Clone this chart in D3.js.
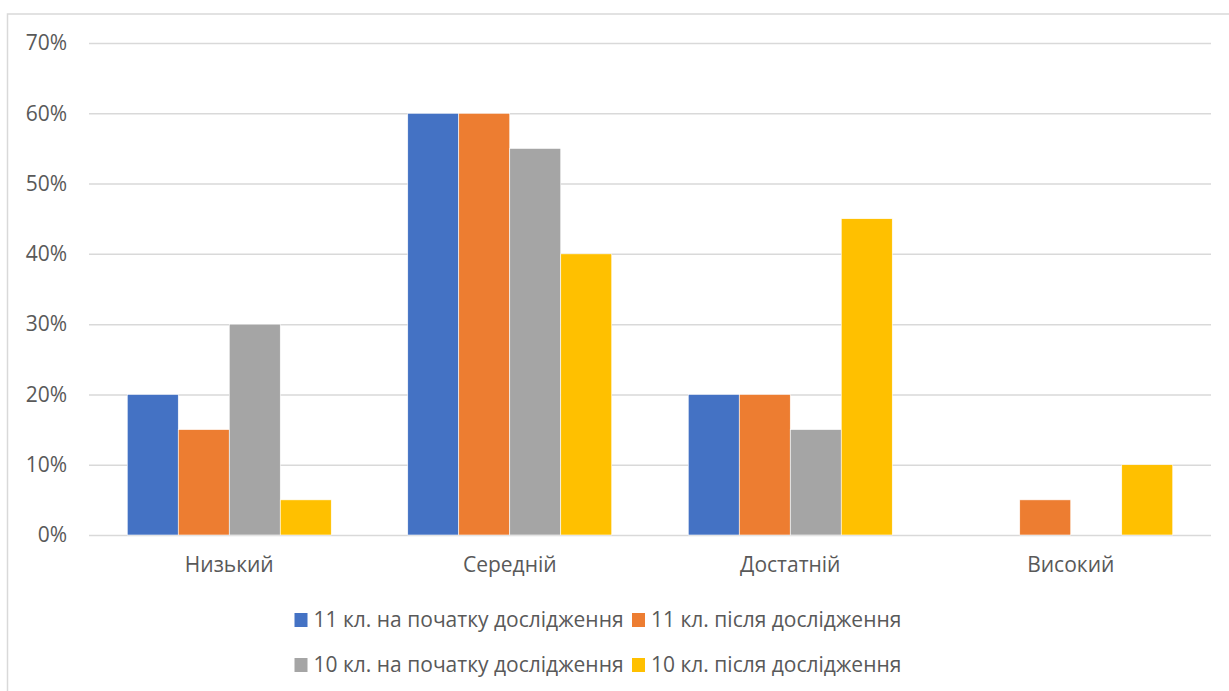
<!DOCTYPE html>
<html>
<head>
<meta charset="utf-8">
<script src="https://cdn.jsdelivr.net/npm/d3@7"></script>
<style>
  html, body { margin: 0; padding: 0; background: #fff; }
  svg { display: block; }
  svg text { font-family: "Open Sans", "Noto Sans", sans-serif; }
</style>
</head>
<body>
<svg id="chart" width="1229" height="691"></svg>
<script>
// Rating levels and shares of students per group
const categories = ["Низький", "Середній", "Достатній", "Високий"];
const seriesNames = [
  "11 кл. на початку дослідження",
  "11 кл. після дослідження",
  "10 кл. на початку дослідження",
  "10 кл. після дослідження"
];
const grade11Before = [0.20, 0.60, 0.20, 0.00];
const grade11After  = [0.15, 0.60, 0.20, 0.05];
const grade10Before = [0.30, 0.55, 0.15, 0.00];
const grade10After  = [0.05, 0.40, 0.45, 0.10];
const yTicks = [0, 0.1, 0.2, 0.3, 0.4, 0.5, 0.6, 0.7];
const colors = ["#4472C4", "#ED7D31", "#A5A5A5", "#FFC000"];

const seriesValues = [grade11Before, grade11After, grade10Before, grade10After];

const svg = d3.select("#chart");
const W = 1229, H = 691;
const plot = { left: 89, right: 1211, top: 43, bottom: 535 };
const textColor = "#595959";
const gridColor = "#d9d9d9";
const fontSize = "21px";

// Outer chart frame
svg.append("rect")
  .attr("x", 7.5).attr("y", 14)
  .attr("width", W + 10).attr("height", H + 10)
  .attr("fill", "none").attr("stroke", gridColor).attr("stroke-width", 1.5);

const x0 = d3.scaleBand()
  .domain(categories)
  .range([plot.left, plot.right])
  .paddingInner(1.5 / 5.5)
  .paddingOuter(0.75 / 5.5);

const x1 = d3.scaleBand()
  .domain(d3.range(seriesNames.length))
  .range([0, x0.bandwidth()]);

const y = d3.scaleLinear().domain([0, 0.7]).range([plot.bottom, plot.top]);

// Horizontal gridlines and percent labels
const yAxis = d3.axisLeft(y)
  .tickValues(yTicks)
  .tickFormat(d3.format(".0%"))
  .tickSize(-(plot.right - plot.left))
  .tickPadding(22);

const gy = svg.append("g")
  .attr("transform", `translate(${plot.left},0)`)
  .call(yAxis)
  .attr("font-family", null)
  .attr("font-size", null);
gy.select(".domain").remove();
gy.selectAll(".tick line").attr("stroke", gridColor).attr("stroke-width", 1.5);
gy.selectAll(".tick text")
  .attr("fill", textColor)
  .style("font-size", fontSize);

// Bars
const groups = svg.append("g").selectAll("g")
  .data(categories)
  .join("g")
  .attr("transform", d => `translate(${x0(d)},0)`);

groups.selectAll("rect")
  .data((c, i) => seriesValues.map((vals, s) => ({ s, v: vals[i] })))
  .join("rect")
  .attr("x", d => x1(d.s))
  .attr("y", d => y(d.v))
  .attr("width", x1.bandwidth())
  .attr("height", d => y(0) - y(d.v))
  .attr("fill", d => colors[d.s])
  .attr("stroke", "#fff")
  .attr("stroke-width", 0.6);

// Category axis
const xAxis = d3.axisBottom(x0).tickSize(0).tickPadding(22);
const gx = svg.append("g")
  .attr("transform", `translate(0,${plot.bottom})`)
  .call(xAxis)
  .attr("font-family", null)
  .attr("font-size", null);
gx.select(".domain").remove();
gx.selectAll(".tick text")
  .attr("fill", textColor)
  .style("font-size", fontSize);

// Legend in two rows
const legendPos = [
  { x: 294.5, y: 620 }, { x: 632, y: 620 },
  { x: 294.5, y: 665 }, { x: 632, y: 665 }
];
const legend = svg.append("g").selectAll("g")
  .data(seriesNames)
  .join("g")
  .attr("transform", (d, i) => `translate(${legendPos[i].x},${legendPos[i].y})`);
legend.append("rect")
  .attr("x", 0).attr("y", -7)
  .attr("width", 13).attr("height", 14)
  .attr("fill", (d, i) => colors[i]);
legend.append("text")
  .attr("x", 19).attr("y", 0)
  .attr("dy", "0.35em")
  .attr("fill", textColor)
  .style("font-size", fontSize)
  .text(d => d);
</script>
</body>
</html>
